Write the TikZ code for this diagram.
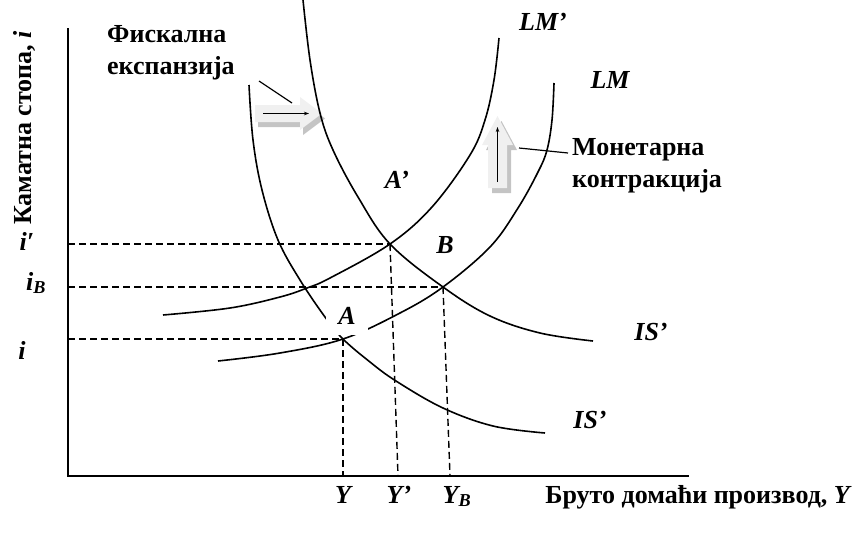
\documentclass[tikz,border=0pt]{standalone}
\usepackage{fontspec}
\setmainfont{Liberation Serif}
\usetikzlibrary{arrows.meta}
\definecolor{arrowfill}{HTML}{F0F0F0}
\definecolor{arrowshadow}{HTML}{C4C4C4}
\begin{document}
\begin{tikzpicture}[x=1pt,y=-1pt,
  curve/.style={line width=1.6pt},
  axis/.style={line width=1.6pt},
  guide/.style={line width=1.4pt, dash pattern=on 7pt off 4pt},
  lbl/.style={font=\fontsize{26}{30}\selectfont\bfseries\itshape, inner sep=0pt},
  txt/.style={font=\fontsize{26}{32}\selectfont\bfseries, inner sep=0pt},
  blockarrow/.style={fill=arrowfill, draw=none},
  shadowarrow/.style={fill=arrowshadow, draw=none},
  thinarrow/.style={line width=0.8pt, -{Stealth[length=5pt,width=3.5pt]}},
  leader/.style={line width=1.2pt}]

\useasboundingbox (0,0) rectangle (858,536);

% axes
\coordinate (O) at (68,476);
\coordinate (Ytop) at (68,28);
\coordinate (Xend) at (689,476);
\draw[axis] (Ytop) -- (O) -- (Xend);

% block arrows (drawn under curves)
\fill[shadowarrow, shift={(3,5)}] (255,105) -- (300,105) -- (300,97) -- (322,113.5) -- (300,130) -- (300,122) -- (255,122) -- cycle;
\fill[blockarrow] (255,105) -- (300,105) -- (300,97) -- (322,113.5) -- (300,130) -- (300,122) -- (255,122) -- cycle;
\coordinate (fa1) at (263,113.5);
\coordinate (fa2) at (309,113.5);
\draw[thinarrow] (fa1) -- (fa2);

\fill[shadowarrow, shift={(4,5)}] (488,188) -- (488,145) -- (482,145) -- (497.5,116) -- (513,145) -- (507,145) -- (507,188) -- cycle;
\fill[blockarrow] (488,188) -- (488,145) -- (482,145) -- (497.5,116) -- (513,145) -- (507,145) -- (507,188) -- cycle;
\coordinate (ma1) at (497.5,182);
\coordinate (ma2) at (497.5,127);
\draw[thinarrow] (ma1) -- (ma2);

% intersection points
\coordinate (A) at (343,339);
\coordinate (Apr) at (390,244);
\coordinate (B) at (443,287);

% dashed guides
\coordinate (Yp) at (398,476);
\coordinate (YB) at (450,476);
\draw[guide] (O |- Apr) -- (Apr);
\draw[guide] (O |- B) -- (B);
\draw[guide] (O |- A) -- (A);
\draw[guide] (A) -- (A |- O);
\draw[guide] (Apr) -- (Yp);
\draw[guide] (B) -- (YB);

% IS' (upper)
\draw[curve] plot[smooth, tension=0.6] coordinates {(303,0) (310,60) (320,113) (333,150) (358,197) (390,244) (443,287) (490,316) (540,333) (593,341)};
% IS (lower)
\draw[curve] plot[smooth, tension=0.6] coordinates {(249,85) (253,140) (262,190) (278,240) (300,280) (325,317) (343,339) (370,362) (396,381) (443,408) (493,426) (545,433)};
% LM'
\draw[curve] plot[smooth, tension=0.6] coordinates {(163,315) (230,308) (280,297) (307,288) (330,278) (390,244) (432,207) (470,155) (485,120) (494,80) (499,38)};
% LM
\draw[curve] plot[smooth, tension=0.6] coordinates {(218,361) (280,353) (343,339) (400,313) (443,287) (490,247) (518,208) (538,172) (547,150) (552,120) (554,83)};

% leader lines
\coordinate (fl1) at (259,81);
\coordinate (fl2) at (292,103);
\draw[leader] (fl1) -- (fl2);
\coordinate (ml1) at (519,148);
\coordinate (ml2) at (568,153);
\draw[leader] (ml1) -- (ml2);

% point labels
\node[lbl, fill=white, minimum width=42pt, minimum height=38pt] (lA) at (347,316) {A};
\node[lbl] (lApr) at (397,180) {A’};
\node[lbl] (lB) at (445,245) {B};

% curve labels
\node[lbl] (lLMp) at (543,22) {LM’};
\node[lbl] (lLM) at (610,80) {LM};
\node[lbl] (lISu) at (651,332) {IS’};
\node[lbl] (lISl) at (590,420) {IS’};

% axis value labels
\node[lbl] (li1) at (27,241) {i′};
\node[lbl] (liB) at (36,283) {i\textsubscript{B}};
\node[lbl] (li) at (22,350) {i};
\node[lbl, anchor=base] (lY) at (343,503) {Y};
\node[lbl, anchor=base] (lYp) at (399,503) {Y’};
\node[lbl, anchor=base] (lYB) at (457,503) {Y\textsubscript{B}};

% axis titles
\node[txt, rotate=90] (ytitle) at (24,128) {Каматна стопа, \textit{i}};
\node[txt, anchor=base east] (xtitle) at (852,503) {Бруто домаћи производ, \textit{Y}};

% texts
\node[txt, anchor=base west] (fisc1) at (107,42) {Фискална};
\node[txt, anchor=base west] (fisc2) at (107,74) {експанзија};
\node[txt, anchor=base west] (mon1) at (572,155) {Монетарна};
\node[txt, anchor=base west] (mon2) at (572,187) {контракција};

\end{tikzpicture}
\end{document}
